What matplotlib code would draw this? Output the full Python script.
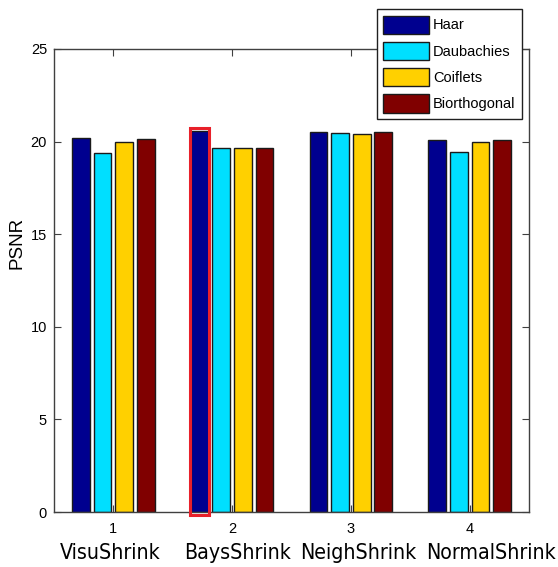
import numpy as np
import matplotlib
matplotlib.use("Agg")
import matplotlib.pyplot as plt
from matplotlib.patches import Rectangle
from matplotlib import font_manager

# Dados
metodos = ["VisuShrink", "BaysShrink", "NeighShrink", "NormalShrink"]
wavelets = ["Haar", "Daubachies", "Coiflets", "Biorthogonal"]
haar = [20.22, 20.57, 20.53, 20.10]
daubachies = [19.38, 19.66, 20.48, 19.43]
coiflets = [19.96, 19.66, 20.41, 19.97]
biorthogonal = [20.16, 19.66, 20.53, 20.10]
cores = ["#00008F", "#00DFFF", "#FFD000", "#800000"]
destaque = (1, 0)  # BaysShrink / Haar

# Fonte estreita para os nomes dos metodos (se existir)
nomes = {(f.name, f.stretch) for f in font_manager.fontManager.ttflist}
if any(n == "Liberation Sans Narrow" for n, _ in nomes):
    fonte_cat, esticar, tam_cat = "Liberation Sans Narrow", "normal", 17.5
elif ("DejaVu Sans", "condensed") in nomes:
    fonte_cat, esticar, tam_cat = "DejaVu Sans", "condensed", 15.3
else:
    fonte_cat, esticar, tam_cat = "Lato", "normal", 16.5

valores = [haar, daubachies, coiflets, biorthogonal]
x = np.arange(1, len(metodos) + 1)
passo = 0.182
largura = 0.15

fig = plt.figure(figsize=(5.58, 5.67), dpi=100)
ax = fig.add_axes([54 / 558, 1 - 512 / 567, 475 / 558, 463 / 567])

for i, (serie, cor, nome) in enumerate(zip(valores, cores, wavelets)):
    pos = x + (i - 1.5) * passo
    ax.bar(pos, serie, width=largura, color=cor, edgecolor="#1a1a1a",
           linewidth=1.0, label=nome, zorder=2)

# Retangulo vermelho de destaque
g, s = destaque
xc = x[g] + (s - 1.5) * passo
v = valores[s][g]
ax.add_patch(Rectangle((xc - largura / 2 - 0.005, -0.15), largura + 0.01, v + 0.15 + 0.14,
                       fill=False, edgecolor="#E8202A", linewidth=2.2, zorder=3,
                       clip_on=False))

ax.set_xlim(0.5, 4.5)
ax.set_ylim(0, 25)
ax.set_yticks([0, 5, 10, 15, 20, 25])
ax.set_xticks(x)
ax.set_xticklabels([str(i) for i in x])
for lab in ax.get_xticklabels() + ax.get_yticklabels():
    lab.set_fontfamily("Liberation Sans")
    lab.set_fontsize(10.5)

ax.tick_params(direction="in", length=5, width=0.8, color="#404040",
               top=True, right=True)
ax.tick_params(axis="x", pad=7)
ax.tick_params(axis="y", pad=5)
for sp in ax.spines.values():
    sp.set_color("#404040")
    sp.set_linewidth(1.0)

# nomes dos metodos (no original ficam um pouco deslocados para a direita)
desloc = [-0.03, 0.05, 0.06, 0.18]
for xi, d, nome in zip(x, desloc, metodos):
    ax.text(xi + d, -0.089, nome, transform=ax.get_xaxis_transform(),
            ha="center", va="center", fontsize=tam_cat, fontfamily=fonte_cat,
            fontstretch=esticar, clip_on=False)

ax.set_ylabel("PSNR", fontsize=13.5, fontfamily="Liberation Sans", va="center")
ax.yaxis.set_label_coords(-0.078, 0.581)

leg = ax.legend(loc="upper right", bbox_to_anchor=(522 / 558, 1 - 9 / 567),
                bbox_transform=fig.transFigure, prop={"family": "Liberation Sans", "size": 10.5},
                handlelength=3.1, handleheight=1.55, labelspacing=0.55,
                handletextpad=0.3, borderpad=0.45, borderaxespad=0,
                fancybox=False, framealpha=1)
leg.get_frame().set_edgecolor("#202020")
leg.get_frame().set_linewidth(1.0)
for h in leg.legend_handles:
    h.set_edgecolor("#1a1a1a")
    h.set_linewidth(1.0)

fig.savefig("out.png", dpi=100)
